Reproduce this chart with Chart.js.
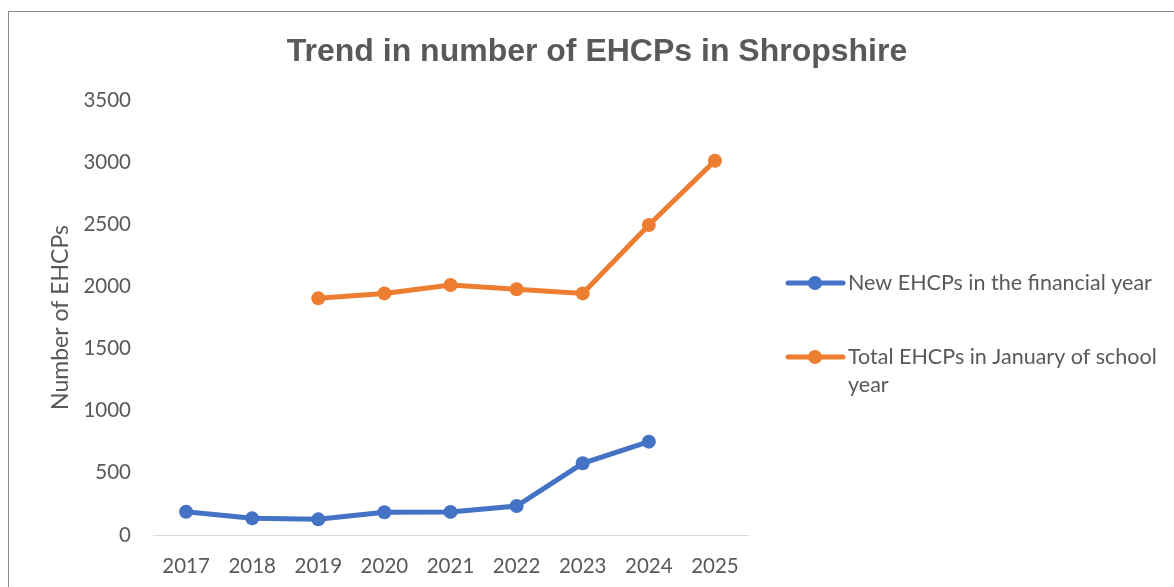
<!DOCTYPE html>
<html>
<head>
<meta charset="utf-8">
<script src="https://cdn.jsdelivr.net/npm/chart.js@4"></script>
<style>
    html, body { margin: 0; padding: 0; background: #fff; overflow: hidden; }
    #frame { position: absolute; left: 8px; top: 11px; width: 1300px; height: 700px; border: 1px solid #8c8c8c; }
    #wrap { position: absolute; left: 0; top: 0; width: 1174px; height: 587px; }
</style>
</head>
<body>
<div id="frame"></div>
<div id="wrap"><canvas id="ehcpChart"></canvas></div>
<script>
// chart data
const years = ['2017', '2018', '2019', '2020', '2021', '2022', '2023', '2024', '2025'];
const newEhcps = [187, 134, 126, 183, 186, 233, 577, 751, null];
const totalEhcps = [null, null, 1904, 1944, 2011, 1977, 1944, 2494, 3011];
const seriesNames = ['New EHCPs in the financial year', ['Total EHCPs in January of school', 'year']];
const seriesColors = ['#4472C4', '#ED7D31'];
const chartTitle = 'Trend in number of EHCPs in Shropshire';

const textColor = '#595959';

// title and legend drawn by hand so they sit where Excel put them
const excelLayout = {
    id: 'excelLayout',
    afterDraw(chart) {
        const ctx = chart.ctx;
        const area = chart.chartArea;
        ctx.save();
        ctx.fillStyle = textColor;
        ctx.font = 'bold 32px "Liberation Sans"';
        ctx.textAlign = 'center';
        ctx.textBaseline = 'middle';
        ctx.fillText(chartTitle, 597, 52);

        const rows = [area.top + 183, area.top + 257];
        ctx.font = '21.5px Lato';
        ctx.textAlign = 'left';
        seriesNames.forEach(function (name, i) {
            const x = area.right + 40;
            const y = rows[i];
            ctx.strokeStyle = seriesColors[i];
            ctx.lineWidth = 5;
            ctx.lineCap = 'round';
            ctx.beginPath();
            ctx.moveTo(x, y);
            ctx.lineTo(x + 55, y);
            ctx.stroke();
            ctx.fillStyle = seriesColors[i];
            ctx.beginPath();
            ctx.arc(x + 27, y, 7, 0, Math.PI * 2);
            ctx.fill();
            ctx.fillStyle = textColor;
            const lines = Array.isArray(name) ? name : [name];
            lines.forEach(function (line, j) {
                ctx.fillText(line, x + 60, y + j * 28);
            });
        });
        ctx.restore();
    }
};

const ctx = document.getElementById('ehcpChart').getContext('2d');
const myChart = new Chart(ctx, {
    type: 'line',
    data: {
        labels: years,
        datasets: [{
                label: 'New EHCPs in the financial year',
                data: newEhcps,
                borderColor: seriesColors[0],
                backgroundColor: seriesColors[0],
                borderWidth: 5,
                pointRadius: 7,
                pointBorderWidth: 0,
                pointHoverRadius: 7
            },
            {
                label: 'Total EHCPs in January of school year',
                data: totalEhcps,
                borderColor: seriesColors[1],
                backgroundColor: seriesColors[1],
                borderWidth: 5,
                pointRadius: 7,
                pointBorderWidth: 0,
                pointHoverRadius: 7
            }
        ]
    },
    options: {
        responsive: true,
        maintainAspectRatio: false,
        animation: false,
        layout: {
            padding: { left: 45, right: 426, top: 100, bottom: 0 }
        },
        plugins: {
            legend: { display: false },
            tooltip: { enabled: false },
            title: { display: false }
        },
        scales: {
            x: {
                offset: true,
                afterFit: function (scale) {
                    scale.height = 52;
                },
                grid: { display: false, drawTicks: false },
                border: { display: true, color: '#d9d9d9', width: 1 },
                ticks: {
                    color: textColor,
                    font: { family: 'Lato', size: 20.5 },
                    padding: 19,
                    maxRotation: 0
                }
            },
            y: {
                min: 0,
                max: 3500,
                afterFit: function (scale) {
                    scale.width = 108;
                },
                grid: { display: false, drawTicks: false },
                border: { display: false },
                ticks: {
                    stepSize: 500,
                    color: textColor,
                    font: { family: 'Lato', size: 20.5 },
                    padding: 22,
                    callback: function (value) {
                        return value;
                    }
                },
                title: {
                    display: true,
                    text: 'Number of EHCPs',
                    color: textColor,
                    font: { family: 'Lato', size: 23 },
                    padding: { top: 2, bottom: 4 }
                }
            }
        }
    },
    plugins: [excelLayout]
});
</script>
</body>
</html>
